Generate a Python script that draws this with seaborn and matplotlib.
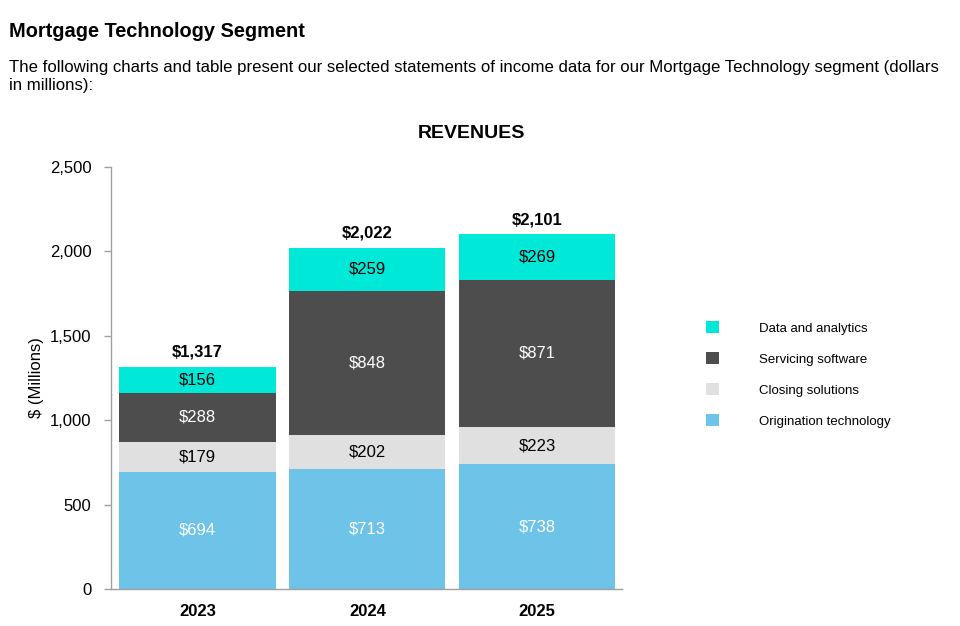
import matplotlib
matplotlib.use('Agg')
import matplotlib.pyplot as plt
from matplotlib.patches import Patch
import numpy as np
import seaborn as sns

years = ['2023', '2024', '2025']
segments = ['Origination technology', 'Closing solutions',
            'Servicing software', 'Data and analytics']
origination = [694, 713, 738]
closing = [179, 202, 223]
servicing = [288, 848, 871]
data_analytics = [156, 259, 269]
totals = [1317, 2022, 2101]
y_ticks = [0, 500, 1000, 1500, 2000, 2500]

colors = {
    'Origination technology': '#6DC3E8',
    'Closing solutions': '#E0E0E0',
    'Servicing software': '#4D4D4D',
    'Data and analytics': '#00E8D8',
}
label_colors = {
    'Origination technology': 'white',
    'Closing solutions': 'black',
    'Servicing software': 'white',
    'Data and analytics': 'black',
}


def main():
    sns.set_style('white')
    plt.rcParams['font.family'] = ['Liberation Sans', 'DejaVu Sans']
    plt.rcParams['text.color'] = 'black'
    plt.rcParams['axes.labelcolor'] = 'black'
    plt.rcParams['xtick.color'] = 'black'
    plt.rcParams['ytick.color'] = 'black'

    fig = plt.figure(figsize=(9.6, 6.26), dpi=100)
    ax = fig.add_axes([0.1156, 0.059, 0.5323, 0.6745])

    values = [origination, closing, servicing, data_analytics]
    cum = np.cumsum(np.array(values), axis=0)

    # draw tallest stack first, then cover with the lower cumulative bars
    for i in range(len(segments) - 1, -1, -1):
        sns.barplot(x=years, y=cum[i], color=colors[segments[i]],
                    saturation=1, width=0.92, linewidth=0, ax=ax)

    for i, seg in enumerate(segments):
        for j in range(len(years)):
            mid = cum[i][j] - values[i][j] / 2
            ax.text(j, mid, f'${values[i][j]}', ha='center', va='center',
                    fontsize=12, color=label_colors[seg])

    for j, total in enumerate(totals):
        ax.annotate(f'${total:,}', xy=(j, total), xytext=(0, 7),
                    textcoords='offset points', ha='center', va='baseline',
                    fontsize=12, fontweight='bold')

    ax.set_xlim(-0.51, 2.5)
    ax.set_ylim(0, 2500)
    ax.set_yticks(y_ticks)
    ax.set_yticklabels([f'{t:,}' for t in y_ticks], fontsize=12)
    ax.set_xticks(range(len(years)))
    ax.set_xticklabels(years, fontsize=12, fontweight='bold')
    ax.tick_params(axis='y', left=True, length=5, width=1, color='#A0A0A0',
                   labelcolor='black', pad=9)
    ax.tick_params(axis='x', bottom=False, pad=7, labelcolor='black')
    ax.set_ylabel('$ (Millions)', fontsize=12, labelpad=4)
    ax.set_xlabel('')
    sns.despine(ax=ax)
    for side in ['left', 'bottom']:
        ax.spines[side].set_color('#A0A0A0')
        ax.spines[side].set_linewidth(1)

    handles = [Patch(facecolor=colors[s], edgecolor='none')
               for s in segments[::-1]]
    fig.legend(handles, segments[::-1], loc='upper left',
               bbox_to_anchor=(0.735, 0.487), frameon=False, fontsize=9.5,
               handlelength=1.05, handleheight=1.05, handletextpad=3.0,
               labelspacing=1.32, borderpad=0, borderaxespad=0)

    fig.text(0.491, 0.7796, 'REVENUES', ha='center', va='baseline',
             fontsize=14, fontweight='bold')
    fig.text(0.0094, 0.941, 'Mortgage Technology Segment', ha='left',
             va='baseline', fontsize=14.4, fontweight='bold')
    fig.text(0.0094, 0.885,
             'The following charts and table present our selected statements '
             'of income data for our Mortgage Technology segment (dollars',
             ha='left', va='baseline', fontsize=12.1)
    fig.text(0.0094, 0.856, 'in millions):', ha='left', va='baseline',
             fontsize=12.1)

    fig.savefig('out.png', dpi=100)


if __name__ == '__main__':
    main()
